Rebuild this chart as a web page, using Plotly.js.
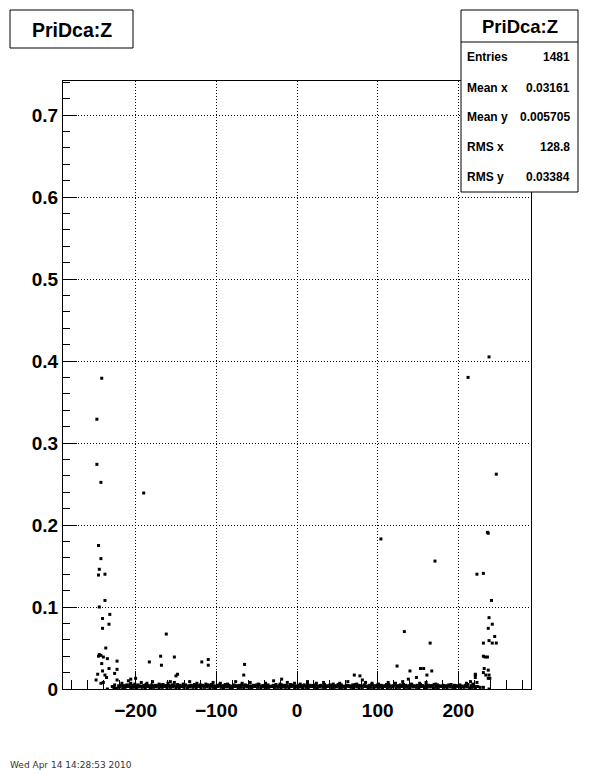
<!DOCTYPE html>
<html>
<head>
<meta charset="utf-8">
<script src="https://cdn.plot.ly/plotly-3.0.1.min.js"></script>
<style>html,body{margin:0;padding:0;background:#fff;}#chart{width:596px;height:774px;}</style>
</head>
<body>
<div id="chart"></div>
<script>
// ---------- data ----------
const titleText = "PriDca:Z";
const statsLabels = ["Entries", "Mean x", "Mean y", "RMS x", "RMS y"];
const statsValues = ["1481", "0.03161", "0.005705", "128.8", "0.03384"];
const dateText = "Wed Apr 14 14:28:53 2010";

// isolated points
const outX = [-242,-248,-248,-243,-190,-246,-243,-245,-246,-238,-238,-245,-232,-241,-233,-241,-237,-245,-246,-243,-240,-235,-242,-233,-223,-223,-226,-247,-238,-241,-236,-249,-243,-240,-223,-235,-226,-200,-206,
  -162,-183,-169,-168,-152,-150,-148,-118,-110,-110,-65,-66,-19,-206,-157,
  104,171,133,165,124,140,153,157,167,161,148,138,71,78,81,221,221,
  238,212,247,236,237,223,231,241,238,242,237,245,238,231,242,247,231,236,233,232,237,231,234,238,237,239,231,238,221];
const outY = [0.379,0.329,0.274,0.252,0.239,0.175,0.159,0.146,0.139,0.140,0.108,0.100,0.091,0.086,0.079,0.074,0.050,0.042,0.040,0.041,0.039,0.037,0.031,0.025,0.034,0.024,0.019,0.018,0.017,0.022,0.014,0.011,0.007,0.008,0.011,0.0,0.001,0.013,0.007,
  0.067,0.033,0.040,0.029,0.039,0.016,0.018,0.033,0.036,0.029,0.030,0.017,0.012,0.012,0.009,
  0.183,0.156,0.070,0.056,0.028,0.022,0.025,0.025,0.022,0.017,0.014,0.012,0.017,0.016,0.011,0.018,0.014,
  0.405,0.380,0.262,0.191,0.190,0.140,0.141,0.108,0.087,0.079,0.074,0.064,0.059,0.056,0.056,0.056,0.040,0.039,0.039,0.025,0.023,0.020,0.017,0.017,0.013,0.013,0.002,0.0,0.017];

// dense band near zero (lower row)
const bandAx = [-229,-227,-223,-220,-216,-213,-209,-206,-203,-199,-196,-192,-188,-185,-182,-178,-175,-171,-167,-164,-161,-157,-154,-150,-146,-143,-140,-136,-133,-129,-125,-122,-119,-115,-112,-108,-104,-101,-98,-94,-91,-87,-83,-80,-77,-73,-70,-66,-62,-59,-56,-52,-49,-45,-41,-38,-35,-31,-28,-24,-20,-17,-14,-10,-7,-3,1,4,7,11,14,18,22,25,28,32,35,39,43,46,49,53,56,60,64,67,70,74,77,81,85,88,91,95,98,102,106,109,112,116,119,123,127,130,133,137,140,144,148,151,154,158,161,165,169,172,175,179,182,186,190,193,196,200,203,207,211,214,217,221,224,227];
const bandAy = [0.003,0.002,0.001,0.0025,0.0015,0.002,0.003,0.001,0.002,0.0015,0.0025,
  0.002,0.001,0.003,0.0015,0.002,0.0025,0.001,0.002,0.003,0.0015,
  0.002,0.0025,0.001,0.0015,0.003,0.002,0.001,0.0025,0.002,0.0015,
  0.003,0.001,0.002,0.0025,0.0015,0.002,0.001,0.003,0.002,0.0015,
  0.0025,0.001,0.002,0.003,0.0015,0.002,0.001,0.0025,0.002,0.0015,
  0.003,0.002,0.001,0.0025,0.0015,0.002,0.003,0.001,0.002,0.0015,
  0.0025,0.002,0.001,0.003,0.0015,0.002,0.0025,0.001,0.002,0.0015,
  0.003,0.002,0.001,0.0025,0.002,0.0015,0.003,0.001,0.002,0.0025,
  0.0015,0.002,0.001,0.003,0.002,0.0015,0.0025,0.001,0.002,0.003,
  0.0015,0.002,0.001,0.0025,0.002,0.0015,0.003,0.001,0.002,0.0025,
  0.0015,0.002,0.003,0.001,0.002,0.0015,0.0025,0.002,0.001,0.003,
  0.0015,0.002,0.0025,0.001,0.002,0.0015,0.003,0.002,0.001,0.0025,
  0.002,0.0015,0.003,0.001,0.002,0.0025,0.0015,0.002,0.001,0.003,0.002];

// dense band near zero (upper row)
const bandBx = [-226,-218,-214,-211,-207,-204,-201,-197,-194,-190,-187,-183,-180,-176,-173,-169,-166,-162,-159,-155,-152,-148,-145,-141,-138,-134,-131,-127,-124,-120,-117,-113,-110,-106,-103,-99,-96,-92,-89,-85,-82,-78,-75,-71,-68,-64,-61,-57,-54,-50,-47,-43,-40,-36,-33,-29,-26,-22,-19,-15,-12,-8,-5,-1,2,6,9,13,16,20,23,27,30,34,37,41,44,48,51,55,58,62,65,69,72,76,79,83,86,90,93,97,100,104,107,111,114,118,121,125,128,132,135,139,142,146,149,153,156,160,163,167,170,174,177,181,184,188,191,195,198,202,205,209,212,216,219,222];
const bandBy = [0.005,0.0045,0.004,0.005,0.0055,0.0045,0.004,0.005,0.0035,0.0045,
  0.0055,0.004,0.005,0.0045,0.0035,0.005,0.0055,0.004,0.0045,0.005,
  0.004,0.0055,0.0045,0.0035,0.005,0.004,0.0045,0.0055,0.004,0.005,
  0.0045,0.0035,0.005,0.0055,0.004,0.0045,0.005,0.004,0.0055,0.0045,
  0.0035,0.005,0.004,0.0045,0.0055,0.005,0.004,0.0035,0.0045,0.005,
  0.0055,0.004,0.0045,0.005,0.0035,0.0045,0.0055,0.004,0.005,0.0045,
  0.004,0.0055,0.005,0.0035,0.0045,0.004,0.005,0.0055,0.0045,0.004,
  0.005,0.0035,0.0045,0.0055,0.004,0.005,0.0045,0.004,0.0055,0.005,
  0.0035,0.0045,0.004,0.005,0.0055,0.0045,0.004,0.005,0.0035,0.0045,
  0.0055,0.004,0.005,0.0045,0.004,0.0055,0.005,0.0035,0.0045,0.004,
  0.005,0.0055,0.0045,0.004,0.005,0.0035,0.0045,0.0055,0.004,0.005,
  0.0045,0.004,0.0055,0.005,0.0035,0.0045,0.004,0.005,0.0055,0.0045,
  0.004,0.005,0.0035,0.0045,0.0055,0.004];

// dense band near zero (middle row)
const bandCx = [-221,-215,-212,-208,-205,-202,-198,-195,-191,-189,-186,-181,-177,-174,-170,-168,-163,-160,-156,-153,-149,-147,-142,-139,-135,-132,-128,-126,-121,-118,-114,-111,-107,-105,-100,-97,-93,-90,-86,-84,-79,-76,-72,-69,-65,-63,-58,-55,-51,-48,-44,-42,-37,-34,-30,-27,-23,-21,-16,-13,-9,-6,-2,0,5,8,12,15,19,21,26,29,33,36,40,42,47,50,54,57,61,63,68,71,75,78,82,84,89,92,96,99,103,105,110,113,117,120,124,126,131,134,138,141,145,147,152,155,159,162,166,168,173,176,180,183,187,189,194,197,201,204,208,210,215,218,223];
const bandCy = [0.0035,0.003,0.004,0.0035,0.003,0.004,0.0035,0.003,0.004,0.0035,
  0.003,0.0035,0.004,0.003,0.0035,0.004,0.003,0.0035,0.004,0.0035,
  0.003,0.004,0.0035,0.003,0.0035,0.004,0.003,0.0035,0.004,0.003,
  0.0035,0.004,0.003,0.0035,0.004,0.0035,0.003,0.004,0.0035,0.003,
  0.0035,0.004,0.003,0.0035,0.004,0.003,0.0035,0.004,0.0035,0.003,
  0.004,0.0035,0.003,0.0035,0.004,0.003,0.0035,0.004,0.003,0.0035,
  0.004,0.0035,0.003,0.004,0.0035,0.003,0.0035,0.004,0.003,0.0035,
  0.004,0.003,0.0035,0.004,0.0035,0.003,0.004,0.0035,0.003,0.0035,
  0.004,0.003,0.0035,0.004,0.003,0.0035,0.004,0.0035,0.003,0.004,
  0.0035,0.003,0.0035,0.004,0.003,0.0035,0.004,0.003,0.0035,0.004,
  0.0035,0.003,0.004,0.0035,0.003,0.0035,0.004,0.003,0.0035,0.004,
  0.003,0.0035,0.004,0.0035,0.003,0.004,0.0035,0.003,0.0035,0.004,
  0.003,0.0035,0.004,0.003,0.0035];

// occasional points slightly above the band
const spikeX = [-217,-209,-201,-193,-186,-179,-171,-160,-152,-141,-133,-124,-113,-104,-95,-86,-76,-68,-58,-48,-39,-29,-21,-12,-3,4,13,24,33,45,53,63,74,85,93,101,113,122,131,142,152,160,172,181,192,201,211];
const spikeY = [0.007,0.009,0.006,0.008,0.007,0.010,0.006,0.008,0.007,0.009,0.006,0.007,0.008,0.006,0.009,0.007,0.006,0.008,0.007,0.006,0.009,0.007,0.008,0.006,0.007,0.010,0.006,0.008,0.007,0.006,0.009,0.007,0.008,0.006,0.007,0.009,0.006,0.008,0.007,0.006,0.008,0.007,0.009,0.006,0.007,0.008,0.006];

// ---------- layout helpers ----------
const W = 596, H = 774;
const M = {l: 63, r: 65, t: 81, b: 85};
const PW = W - M.l - M.r, PH = H - M.t - M.b;
const fx = px => (px - M.l) / PW;
const fy = py => (H - M.b - py) / PH;
const FONT = "Liberation Sans, Arial, Helvetica, sans-serif";

const allX = outX.concat(bandAx, bandBx, bandCx, spikeX);
const allY = outY.concat(bandAy.slice(0, bandAx.length), bandBy.slice(0, bandBx.length),
                         bandCy.slice(0, bandCx.length), spikeY);

const traces = [{
  type: "scatter", mode: "markers",
  x: allX, y: allY,
  marker: {symbol: "square", size: 3, color: "#000", line: {width: 0}},
  cliponaxis: true, hoverinfo: "skip"
}];

const axisCommon = {
  showline: true, linecolor: "#000", linewidth: 1, mirror: true,
  ticks: "inside", tickcolor: "#000", tickwidth: 1,
  showgrid: true, gridcolor: "#000", gridwidth: 1, griddash: "1px,2px",
  zeroline: false,
  tickfont: {family: FONT, size: 19, weight: 700, color: "#000"}
};

const shapes = [
  // title box
  {type: "rect", xref: "paper", yref: "paper", x0: fx(10), x1: fx(133), y0: fy(48), y1: fy(10),
   line: {color: "#000", width: 1}, fillcolor: "#fff", layer: "above"},
  // stats box
  {type: "rect", xref: "paper", yref: "paper", x0: fx(461), x1: fx(578), y0: fy(192), y1: fy(10),
   line: {color: "#000", width: 1}, fillcolor: "#fff", layer: "above"},
  {type: "line", xref: "paper", yref: "paper", x0: fx(461), x1: fx(578), y0: fy(42), y1: fy(42),
   line: {color: "#000", width: 1}, layer: "above"}
];

const annotations = [
  {xref: "paper", yref: "paper", x: fx(71.5), y: fy(30), text: titleText, showarrow: false,
   xanchor: "center", yanchor: "middle", font: {family: FONT, size: 19.5, weight: 700, color: "#000"}},
  {xref: "paper", yref: "paper", x: fx(519.5), y: fy(27), text: titleText, showarrow: false,
   xanchor: "center", yanchor: "middle", font: {family: FONT, size: 18.5, weight: 700, color: "#000"}}
];
const rowY = [57, 88, 117, 147, 177];
statsLabels.forEach((lab, i) => {
  annotations.push({xref: "paper", yref: "paper", x: fx(465), y: fy(rowY[i]), text: lab, showarrow: false,
    xanchor: "left", yanchor: "middle", font: {family: FONT, size: 12, weight: 700, color: "#000"}});
  annotations.push({xref: "paper", yref: "paper", x: fx(572), y: fy(rowY[i]), text: statsValues[i], showarrow: false,
    xanchor: "right", yanchor: "middle", font: {family: FONT, size: 12, weight: 700, color: "#000"}});
});
// small date stamp at the bottom-left corner
annotations.push({xref: "paper", yref: "paper", x: fx(8), y: fy(765), text: dateText, showarrow: false,
  xanchor: "left", yanchor: "middle", font: {family: "DejaVu Sans, sans-serif", size: 9, color: "#333"}});

const layout = {
  width: W, height: H,
  margin: {l: M.l, r: M.r, t: M.t, b: M.b, pad: 0},
  paper_bgcolor: "#fff", plot_bgcolor: "#fff",
  showlegend: false,
  xaxis: Object.assign({}, axisCommon, {
    range: [-290, 290], tick0: 0, dtick: 100, ticklen: 18, ticklabelstandoff: 4,
    minor: {ticks: "inside", ticklen: 9, dtick: 20, tick0: 0, tickcolor: "#000", tickwidth: 1, showgrid: false}
  }),
  yaxis: Object.assign({}, axisCommon, {
    range: [0, 0.7415], tick0: 0, dtick: 0.1, ticklen: 14,
    minor: {ticks: "inside", ticklen: 7, dtick: 0.02, tick0: 0, tickcolor: "#000", tickwidth: 1, showgrid: false}
  }),
  shapes: shapes,
  annotations: annotations
};

Plotly.newPlot("chart", traces, layout, {staticPlot: true, displayModeBar: false});
</script>
</body>
</html>
